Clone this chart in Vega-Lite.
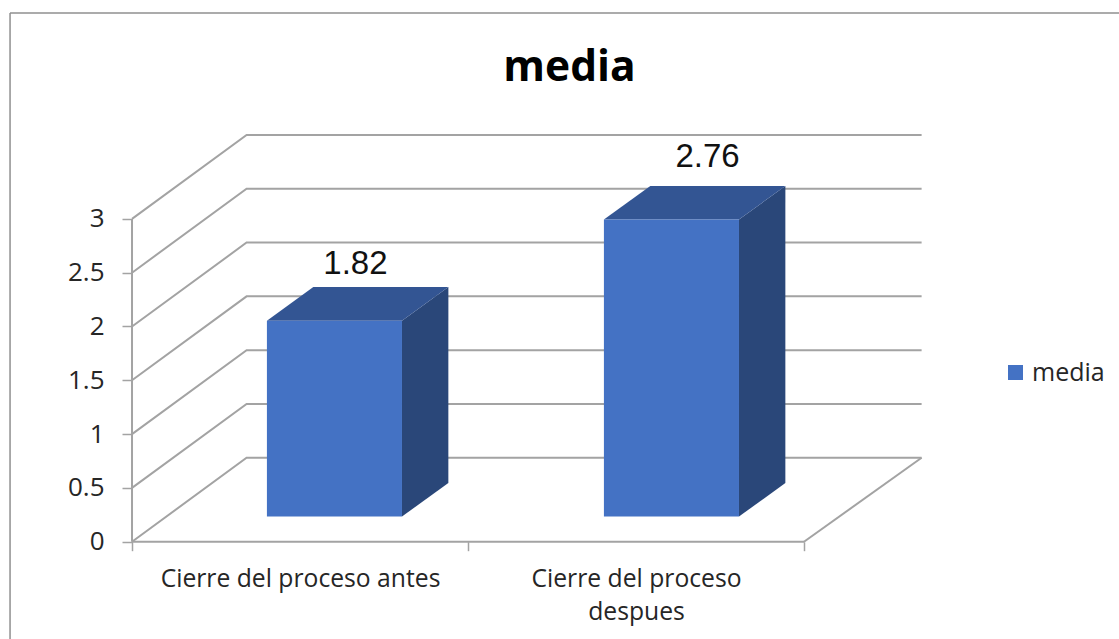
{
  "$schema": "https://vega.github.io/schema/vega-lite/v6.json",
  "width": 1119,
  "height": 639,
  "autosize": {"type": "none"},
  "padding": 0,
  "background": "white",
  "view": {"stroke": null},
  "title": {
    "text": "media",
    "font": "Open Sans",
    "fontSize": 42.5,
    "fontWeight": "bold",
    "color": "#000000",
    "anchor": "middle",
    "baseline": "alphabetic",
    "dx": 10,
    "dy": 41,
    "offset": -82
  },
  "datasets": {
    "medias": [
      {"categoria": "Cierre del proceso antes", "orden": 0, "media": 1.82, "serie": "media"},
      {"categoria": "Cierre del proceso despues", "orden": 1, "media": 2.76, "serie": "media"}
    ],
    "niveles": [
      {"nivel": 0},
      {"nivel": 0.5},
      {"nivel": 1},
      {"nivel": 1.5},
      {"nivel": 2},
      {"nivel": 2.5},
      {"nivel": 3}
    ]
  },
  "layer": [
    {
      "description": "Chart area border",
      "data": {"values": [{"borde": 1}]},
      "mark": {"type": "rule", "stroke": "#8f8f8f", "strokeWidth": 1.5},
      "encoding": {
        "x": {"datum": -0.363, "type": "quantitative"},
        "y": {"datum": -0.904, "type": "quantitative"},
        "y2": {"datum": 4.913}
      }
    },
    {
      "data": {"values": [{"borde": 1}]},
      "mark": {"type": "rule", "stroke": "#8f8f8f", "strokeWidth": 1.5},
      "encoding": {
        "x": {"datum": -0.363, "type": "quantitative"},
        "x2": {"datum": 2.9375},
        "y": {"datum": 4.913, "type": "quantitative"}
      }
    },
    {
      "description": "Gridlines running up the side wall and across the back wall",
      "data": {"name": "niveles"},
      "transform": [
        {"calculate": "[0,1,2]", "as": "t"},
        {"flatten": ["t"]},
        {"calculate": "datum.t == 0 ? 0 : datum.t == 1 ? 0.341 : 2.35", "as": "px"},
        {"calculate": "datum.nivel + (datum.t == 0 ? 0 : 0.78)", "as": "py"}
      ],
      "mark": {"type": "line", "stroke": "#a3a3a3", "strokeWidth": 2, "interpolate": "linear"},
      "encoding": {
        "x": {
          "field": "px",
          "type": "quantitative",
          "scale": {"domain": [-0.3929, 2.9375], "nice": false, "zero": false},
          "axis": {
            "title": null,
            "orient": "bottom",
            "offset": -97.3,
            "domain": false,
            "grid": false,
            "values": [0, 0.5, 1, 1.5, 2],
            "tickSize": 9,
            "tickWidth": 1.5,
            "tickColor": "#a3a3a3",
            "tickOpacity": {"condition": {"test": "datum.value % 1 == 0", "value": 1}, "value": 0},
            "labelExpr": "datum.value == 0.5 ? 'Cierre del proceso antes' : datum.value == 1.5 ? ['Cierre del proceso', 'despues'] : ''",
            "labelFont": "Open Sans",
            "labelFontSize": 24.7,
            "labelColor": "#262626",
            "labelPadding": 16,
            "labelLineHeight": 33,
            "labelLimit": 600,
            "labelOverlap": false,
            "labelBound": false,
            "labelFlush": false
          }
        },
        "y": {
          "field": "py",
          "type": "quantitative",
          "scale": {"domain": [-0.904, 5.034], "nice": false, "zero": false},
          "axis": {
            "title": null,
            "orient": "left",
            "offset": -132,
            "domain": false,
            "grid": false,
            "values": [0, 0.5, 1, 1.5, 2, 2.5, 3],
            "format": "",
            "tickSize": 10,
            "tickWidth": 1.5,
            "tickColor": "#a3a3a3",
            "labelFont": "Open Sans",
            "labelFontSize": 26,
            "labelColor": "#262626",
            "labelPadding": 18,
            "labelOverlap": false,
            "labelBound": false,
            "labelFlush": false
          }
        },
        "detail": {"field": "nivel"}
      }
    },
    {
      "description": "Value axis line",
      "data": {"values": [{"eje": "y"}]},
      "mark": {"type": "rule", "stroke": "#a3a3a3", "strokeWidth": 2},
      "encoding": {
        "x": {"datum": 0, "type": "quantitative"},
        "y": {"datum": 0, "type": "quantitative"},
        "y2": {"datum": 3}
      }
    },
    {
      "description": "Category axis line",
      "data": {"values": [{"eje": "x"}]},
      "mark": {"type": "rule", "stroke": "#a3a3a3", "strokeWidth": 2},
      "encoding": {
        "x": {"datum": 0, "type": "quantitative"},
        "x2": {"datum": 2},
        "y": {"datum": 0, "type": "quantitative"}
      }
    },
    {
      "description": "Right edge of the floor",
      "data": {"values": [{"eje": "suelo"}]},
      "mark": {"type": "rule", "stroke": "#a3a3a3", "strokeWidth": 2},
      "encoding": {
        "x": {"datum": 2, "type": "quantitative"},
        "x2": {"datum": 2.35},
        "y": {"datum": 0, "type": "quantitative"},
        "y2": {"datum": 0.78}
      }
    },
    {
      "description": "Right side face of each bar",
      "data": {"name": "medias"},
      "transform": [
        {"calculate": "[0,1]", "as": "t"},
        {"flatten": ["t"]},
        {"calculate": "datum.orden * 1.003 + 0.8035 + datum.t * 0.138", "as": "px"},
        {"calculate": "0.234 + datum.t * 0.312", "as": "base"},
        {"calculate": "datum.media + datum.base", "as": "cima"}
      ],
      "mark": {"type": "area", "color": "#2A4779", "orient": "vertical"},
      "encoding": {
        "x": {"field": "px", "type": "quantitative"},
        "y": {"field": "base", "type": "quantitative", "stack": null},
        "y2": {"field": "cima"},
        "detail": {"field": "categoria"}
      }
    },
    {
      "description": "Top face of each bar",
      "data": {"name": "medias"},
      "transform": [
        {"calculate": "[0,1]", "as": "t"},
        {"flatten": ["t"]},
        {"calculate": "datum.orden * 1.003 + 0.4015 + datum.t * 0.138", "as": "izq"},
        {"calculate": "datum.orden * 1.003 + 0.8035 + datum.t * 0.138", "as": "der"},
        {"calculate": "datum.media + 0.234 + datum.t * 0.312", "as": "py"}
      ],
      "mark": {"type": "area", "color": "#335593", "orient": "horizontal"},
      "encoding": {
        "y": {"field": "py", "type": "quantitative"},
        "x": {"field": "izq", "type": "quantitative", "stack": null},
        "x2": {"field": "der"},
        "detail": {"field": "categoria"}
      }
    },
    {
      "description": "Front face of each bar, which also carries the legend",
      "data": {"name": "medias"},
      "transform": [
        {"calculate": "datum.orden * 1.003 + 0.4015", "as": "izq"},
        {"calculate": "datum.orden * 1.003 + 0.8035", "as": "der"},
        {"calculate": "0.234", "as": "base"},
        {"calculate": "datum.media + 0.234", "as": "cima"}
      ],
      "mark": {"type": "rect"},
      "encoding": {
        "x": {"field": "izq", "type": "quantitative"},
        "x2": {"field": "der"},
        "y": {"field": "base", "type": "quantitative"},
        "y2": {"field": "cima"},
        "color": {
          "field": "serie",
          "type": "nominal",
          "scale": {"domain": ["media"], "range": ["#4472C4"]},
          "legend": {
            "title": null,
            "orient": "none",
            "legendX": 1003,
            "legendY": 360,
            "symbolType": "square",
            "symbolSize": 225,
            "symbolStrokeWidth": 0,
            "labelFont": "Open Sans",
            "labelFontSize": 25,
            "labelColor": "#262626",
            "labelOffset": 4
          }
        }
      }
    },
    {
      "description": "Value labels above the bars",
      "data": {"name": "medias"},
      "transform": [
        {"calculate": "datum.orden * 1.048 + 0.665", "as": "px"},
        {"calculate": "datum.media + 0.4 + datum.orden * 0.055", "as": "py"}
      ],
      "mark": {
        "type": "text",
        "font": "Liberation Sans",
        "fontSize": 33,
        "color": "#111111",
        "align": "center",
        "baseline": "alphabetic",
        "dy": -29
      },
      "encoding": {
        "x": {"field": "px", "type": "quantitative"},
        "y": {"field": "py", "type": "quantitative"},
        "text": {"field": "media", "type": "quantitative", "format": ".2f"}
      }
    }
  ]
}
